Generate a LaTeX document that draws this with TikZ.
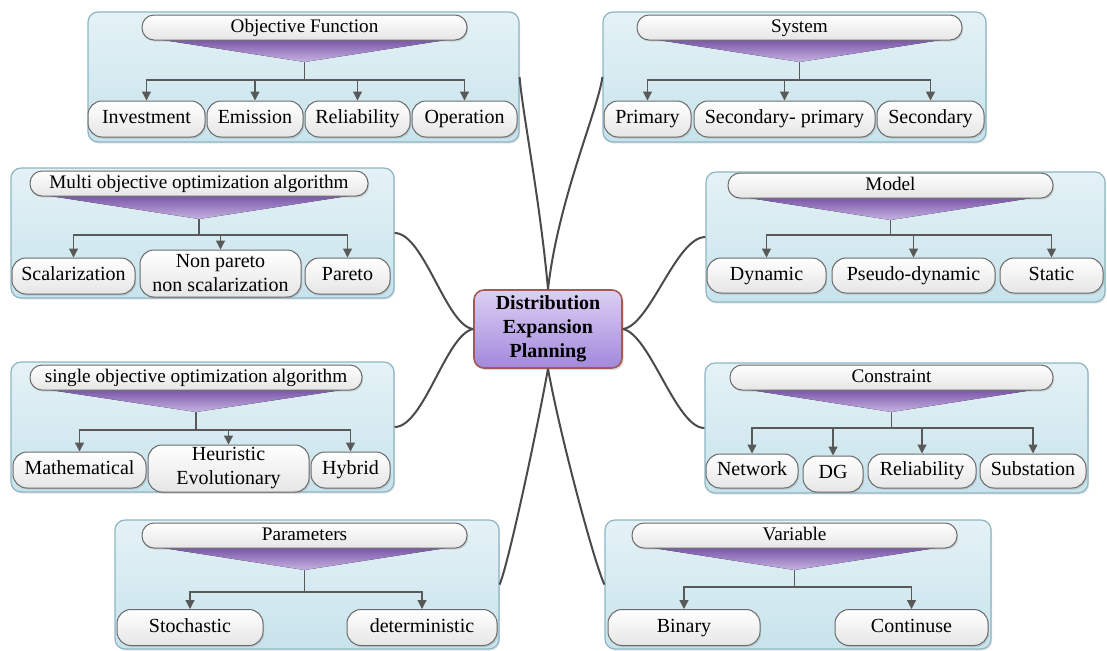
\documentclass[tikz,border=0pt]{standalone}
\usepackage{fontspec}
\setmainfont{Liberation Serif}
\usetikzlibrary{arrows.meta,shadows}
\definecolor{panelA}{HTML}{E4F2F6}
\definecolor{panelB}{HTML}{C8E3EC}
\definecolor{panelLine}{HTML}{8DB5C3}
\definecolor{pillLine}{HTML}{6A6A6A}
\definecolor{triA}{HTML}{7A56A8}
\definecolor{triB}{HTML}{C6B3E2}
\definecolor{hubA}{HTML}{DCD0F4}
\definecolor{hubB}{HTML}{A288DC}
\definecolor{hubLine}{HTML}{A35A50}
\definecolor{linkGray}{HTML}{4A4A4A}
\begin{document}
\begin{tikzpicture}[x=0.5pt, y=-0.5pt,
	panel/.style={draw=panelLine, line width=0.6pt, rounded corners=5pt, top color=panelA, bottom color=panelB, inner sep=0pt,
		drop shadow={shadow xshift=0.6pt, shadow yshift=-0.8pt, opacity=0.2}},
	pill/.style={draw=pillLine, line width=0.5pt, top color=white, bottom color=gray!20, inner sep=0pt,
		drop shadow={shadow xshift=0.6pt, shadow yshift=-0.8pt, opacity=0.25}},
	hdr/.style={pill, rounded corners=6pt, minimum height=12.5pt, text height=6.6pt, text depth=2pt,
		font=\fontsize{9.6}{11.5}\selectfont},
	leaf/.style={pill, rounded corners=7pt, minimum height=18pt, text height=7pt, text depth=2.2pt},
	leaftwo/.style={pill, rounded corners=7pt, minimum width=80.5pt, minimum height=23.5pt, align=center},
	tri/.style={top color=triA, bottom color=triB},
	bar/.style={draw=black!65, line width=0.6pt},
	arr/.style={bar, -{Triangle[width=4.4pt, length=4.4pt]}},
	link/.style={draw=linkGray, line width=1pt},
	hub/.style={draw=hubLine, line width=0.8pt, rounded corners=5pt, top color=hubA, bottom color=hubB, align=center, font=\bfseries, inner sep=0pt,
		drop shadow={shadow xshift=0.8pt, shadow yshift=-1pt, opacity=0.3}}]
	\useasboundingbox (0, 0) rectangle (1107, 650);

	% 1. Objective Function
	\node[panel, minimum width=215.5pt, minimum height=65pt] (obj) at (303.5, 77) {};
	\fill[tri] (163, 40) -- (446, 40) -- (304.5, 62) -- cycle;
	\node[hdr, minimum width=162.5pt] (objH) at (304.5, 27.5) {Objective Function};
	\coordinate (objA) at (304.5, 62); \coordinate (objJ) at (304.5, 80);
	\node[leaf, minimum width=58.5pt] (inv) at (146.5, 119) {Investment};
	\node[leaf, minimum width=48pt] (emi) at (255, 119) {Emission};
	\node[leaf, minimum width=52.5pt] (relA) at (357.5, 119) {Reliability};
	\node[leaf, minimum width=52.5pt] (ope) at (464.5, 119) {Operation};
	\draw[bar] (objA) -- (objJ);
	\foreach \k in {inv, emi, relA, ope} \draw[arr] (objJ) -| (\k.north);

	% 2. System
	\node[panel, minimum width=191.5pt, minimum height=65pt] (sys) at (794.5, 77) {};
	\fill[tri] (658, 40) -- (941, 40) -- (799.5, 62) -- cycle;
	\node[hdr, minimum width=162.5pt] (sysH) at (799.5, 27.5) {System};
	\coordinate (sysA) at (799.5, 62); \coordinate (sysJ) at (799.5, 80);
	\node[leaf, minimum width=43.5pt] (pri) at (647.5, 119) {Primary};
	\node[leaf, minimum width=90.5pt] (secp) at (784.5, 119) {Secondary- primary};
	\node[leaf, minimum width=53.5pt] (sec) at (930.5, 119) {Secondary};
	\draw[bar] (sysA) -- (sysJ);
	\foreach \k in {pri, secp, sec} \draw[arr] (sysJ) -| (\k.north);

	% 3. Multi objective optimization algorithm
	\node[panel, minimum width=191.5pt, minimum height=65pt] (mul) at (202.5, 233) {};
	\fill[tri] (50, 196) -- (348, 196) -- (199, 219) -- cycle;
	\node[hdr, minimum width=169pt] (mulH) at (199, 183.5) {Multi objective optimization algorithm};
	\coordinate (mulA) at (199, 219); \coordinate (mulJ) at (199, 235);
	\node[leaf, minimum width=61.5pt] (sca) at (73.5, 276) {Scalarization};
	\node[leaftwo] (npar) at (220.5, 273.5) {Non pareto\\non scalarization};
	\node[leaf, minimum width=42.5pt] (par) at (347.5, 276) {Pareto};
	\draw[bar] (mulA) -- (mulJ);
	\foreach \k in {sca, npar, par} \draw[arr] (mulJ) -| (\k.north);

	% 4. single objective optimization algorithm
	\node[panel, minimum width=191.5pt, minimum height=65pt] (sgl) at (202.5, 427) {};
	\fill[tri] (50, 390) -- (342, 390) -- (196, 412) -- cycle;
	\node[hdr, minimum width=166pt] (sglH) at (196, 377.5) {single objective optimization algorithm};
	\coordinate (sglA) at (196, 412); \coordinate (sglJ) at (196, 430);
	\node[leaf, minimum width=66.5pt] (mat) at (79.5, 470) {Mathematical};
	\node[leaftwo] (heu) at (228.5, 468.5) {Heuristic\\Evolutionary};
	\node[leaf, minimum width=39.5pt] (hyb) at (350.5, 470) {Hybrid};
	\draw[bar] (sglA) -- (sglJ);
	\foreach \k in {mat, heu, hyb} \draw[arr] (sglJ) -| (\k.north);

	% 5. Parameters
	\node[panel, minimum width=192pt, minimum height=64.5pt] (prm) at (307, 584.5) {};
	\fill[tri] (163, 548) -- (446, 548) -- (304.5, 570) -- cycle;
	\node[hdr, minimum width=162.5pt] (prmH) at (304.5, 535.5) {Parameters};
	\coordinate (prmA) at (304.5, 570); \coordinate (prmJ) at (304.5, 592);
	\node[leaf, minimum width=73pt] (sto) at (190, 627.5) {Stochastic};
	\node[leaf, minimum width=75pt] (det) at (422, 627.5) {deterministic};
	\draw[bar] (prmA) -- (prmJ);
	\foreach \k in {sto, det} \draw[arr] (prmJ) -| (\k.north);

	% 6. Variable
	\node[panel, minimum width=193pt, minimum height=64.5pt] (var) at (798, 584.5) {};
	\fill[tri] (653, 548) -- (936, 548) -- (794.5, 570) -- cycle;
	\node[hdr, minimum width=162.5pt] (varH) at (794.5, 535.5) {Variable};
	\coordinate (varA) at (794.5, 570); \coordinate (varJ) at (794.5, 587);
	\node[leaf, minimum width=76pt] (bin) at (684, 627.5) {Binary};
	\node[leaf, minimum width=76.5pt] (con) at (911.5, 627.5) {Continuse};
	\draw[bar] (varA) -- (varJ);
	\foreach \k in {bin, con} \draw[arr] (varJ) -| (\k.north);

	% 7. Model
	\node[panel, minimum width=199.5pt, minimum height=65pt] (mod) at (905.5, 237) {};
	\fill[tri] (749, 198) -- (1032, 198) -- (890.5, 220) -- cycle;
	\node[hdr, minimum width=162.5pt] (modH) at (890.5, 185.5) {Model};
	\coordinate (modA) at (890.5, 220); \coordinate (modJ) at (890.5, 235);
	\node[leaf, minimum width=59.5pt, minimum height=17.5pt] (dyn) at (766.5, 275.5) {Dynamic};
	\node[leaf, minimum width=81.5pt, minimum height=17.5pt] (pse) at (913.5, 275.5) {Pseudo-dynamic};
	\node[leaf, minimum width=51.5pt, minimum height=17.5pt] (sta) at (1051.5, 275.5) {Static};
	\draw[bar] (modA) -- (modJ);
	\foreach \k in {dyn, pse, sta} \draw[arr] (modJ) -| (\k.north);

	% 8. Constraint
	\node[panel, minimum width=191.5pt, minimum height=65pt] (cns) at (896.5, 428) {};
	\fill[tri] (750, 390) -- (1033, 390) -- (891.5, 412) -- cycle;
	\node[hdr, minimum width=161.5pt] (cnsH) at (891.5, 377.5) {Constraint};
	\coordinate (cnsA) at (891.5, 412); \coordinate (cnsJ) at (891.5, 428);
	\node[leaf, minimum width=46pt, minimum height=17pt] (net) at (752, 471) {Network};
	\node[leaf, minimum width=30pt] (dg) at (833, 474) {DG};
	\node[leaf, minimum width=54pt, minimum height=17pt] (relB) at (922, 471) {Reliability};
	\node[leaf, minimum width=53pt, minimum height=17pt] (sub) at (1033, 471) {Substation};
	\draw[bar] (cnsA) -- (cnsJ);
	\foreach \k in {net, dg, relB, sub} \draw[arr] (cnsJ) -| (\k.north);

	% centre node and the eight links
	\node[hub, minimum width=74pt, minimum height=39pt] (dep) at (548, 329) {Distribution\\Expansion\\Planning};
	\draw[link] (dep.north) .. controls (540, 200) and (522, 110) .. (obj.east);
	\draw[link] (dep.north) .. controls (558, 200) and (598, 110) .. (sys.west);
	\draw[link] (dep.west) .. controls (446, 326) and (424, 233) .. (mul.east);
	\draw[link] (dep.west) .. controls (446, 334) and (424, 427) .. (sgl.east);
	\draw[link] (dep.east) .. controls (650, 326) and (676, 237) .. (mod.west);
	\draw[link] (dep.east) .. controls (650, 334) and (676, 428) .. (cns.west);
	\draw[link] (dep.south) .. controls (535, 440) and (508, 565) .. (prm.east);
	\draw[link] (dep.south) .. controls (561, 440) and (595, 565) .. (var.west);
\end{tikzpicture}
\end{document}
